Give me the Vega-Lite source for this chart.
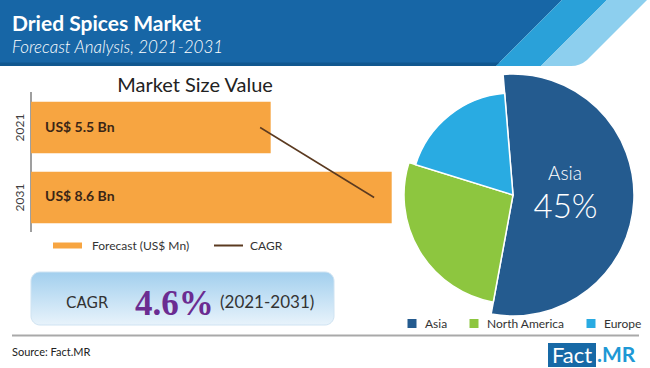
{
  "$schema": "https://vega.github.io/schema/vega-lite/v6.json",
  "width": 650,
  "height": 368,
  "autosize": {"type": "fit", "contains": "padding"},
  "padding": 0,
  "background": "#ffffff",
  "config": {"view": {"stroke": null}, "axis": {"disable": true}},
  "resolve": {"scale": {"x": "independent", "y": "independent"}},
  "layer": [
    {
      "data": {"values": [{}]},
      "layer": [
        {
          "mark": {"type": "point", "shape": "M0,0L5.62,0L4.96,0.66L0,0.66Z", "size": 40000, "filled": true, "color": "#1766a6", "opacity": 1, "strokeWidth": 0},
          "encoding": {
            "x": {"datum": 0, "type": "quantitative", "scale": {"domain": [0, 650], "nice": false, "zero": false}, "axis": null},
            "y": {"datum": 0, "type": "quantitative", "scale": {"domain": [0, 368], "nice": false, "zero": false, "reverse": true}, "axis": null}
          }
        },
        {
          "mark": {"type": "point", "shape": "M0,0.625L5.0,0.625L4.96,0.66L0,0.66Z", "size": 40000, "filled": true, "color": "#10578f", "opacity": 1, "strokeWidth": 0},
          "encoding": {"x": {"datum": 0, "type": "quantitative"}, "y": {"datum": 0, "type": "quantitative"}}
        },
        {
          "mark": {"type": "point", "shape": "M5.62,0L6.07,0L5.41,0.66L4.96,0.66Z", "size": 40000, "filled": true, "color": "#2aa1d9", "opacity": 1, "strokeWidth": 0},
          "encoding": {"x": {"datum": 0, "type": "quantitative"}, "y": {"datum": 0, "type": "quantitative"}}
        },
        {
          "mark": {"type": "point", "shape": "M6.07,0L6.47,0L5.87,0.6Q5.80,0.66 5.71,0.66L5.41,0.66Z", "size": 40000, "filled": true, "color": "#8dcfee", "opacity": 1, "strokeWidth": 0},
          "encoding": {"x": {"datum": 0, "type": "quantitative"}, "y": {"datum": 0, "type": "quantitative"}}
        },
        {
          "mark": {"type": "text", "text": "Dried Spices Market", "align": "left", "baseline": "alphabetic", "font": "Lato", "fontWeight": "bold", "fontSize": 21, "color": "#ffffff"},
          "encoding": {"x": {"datum": 12, "type": "quantitative"}, "y": {"datum": 31, "type": "quantitative"}}
        },
        {
          "mark": {"type": "text", "text": "Forecast Analysis, 2021-2031", "align": "left", "baseline": "alphabetic", "font": "Lato", "fontStyle": "italic", "fontWeight": 300, "fontSize": 17, "color": "#ffffff"},
          "encoding": {"x": {"datum": 12, "type": "quantitative"}, "y": {"datum": 53, "type": "quantitative"}}
        },
        {
          "mark": {"type": "text", "text": "Market Size Value", "align": "center", "baseline": "alphabetic", "font": "Lato", "fontSize": 20, "color": "#222222"},
          "encoding": {"x": {"datum": 195, "type": "quantitative"}, "y": {"datum": 91.5, "type": "quantitative"}}
        },
        {
          "mark": {"type": "rule", "color": "#7f7f7f", "strokeWidth": 1.5},
          "encoding": {"x": {"datum": 31, "type": "quantitative"}, "y": {"datum": 92, "type": "quantitative"}, "y2": {"datum": 232}}
        },
        {
          "mark": {"type": "rect", "color": "#f7a541"},
          "encoding": {"x": {"datum": 53, "type": "quantitative"}, "x2": {"datum": 82}, "y": {"datum": 242.5, "type": "quantitative"}, "y2": {"datum": 248.5}}
        },
        {
          "mark": {"type": "text", "text": "Forecast (US$ Mn)", "align": "left", "baseline": "middle", "font": "Lato", "fontSize": 12, "color": "#333333"},
          "encoding": {"x": {"datum": 92, "type": "quantitative"}, "y": {"datum": 245.5, "type": "quantitative"}}
        },
        {
          "mark": {"type": "rule", "color": "#5b3a20", "strokeWidth": 2},
          "encoding": {"x": {"datum": 214, "type": "quantitative"}, "x2": {"datum": 243}, "y": {"datum": 245.5, "type": "quantitative"}}
        },
        {
          "mark": {"type": "text", "text": "CAGR", "align": "left", "baseline": "middle", "font": "Lato", "fontSize": 12, "color": "#333333"},
          "encoding": {"x": {"datum": 250, "type": "quantitative"}, "y": {"datum": 245.5, "type": "quantitative"}}
        },
        {
          "mark": {"type": "rect", "cornerRadius": 9, "stroke": "#cfe3f2", "strokeWidth": 1, "fill": {"gradient": "linear", "x1": 0, "y1": 0, "x2": 0, "y2": 1, "stops": [{"offset": 0, "color": "#a2cfee"}, {"offset": 1, "color": "#e8f3fb"}]}},
          "encoding": {"x": {"datum": 31, "type": "quantitative"}, "x2": {"datum": 334}, "y": {"datum": 272, "type": "quantitative"}, "y2": {"datum": 325}}
        },
        {
          "mark": {"type": "text", "text": "CAGR", "align": "left", "baseline": "middle", "font": "DejaVu Sans", "fontSize": 15, "color": "#333333"},
          "encoding": {"x": {"datum": 66, "type": "quantitative"}, "y": {"datum": 303, "type": "quantitative"}}
        },
        {
          "mark": {"type": "text", "text": "4.6%", "align": "left", "baseline": "alphabetic", "font": "Liberation Serif", "fontWeight": "bold", "fontSize": 35, "color": "#6b2c91"},
          "encoding": {"x": {"datum": 135, "type": "quantitative"}, "y": {"datum": 315, "type": "quantitative"}}
        },
        {
          "mark": {"type": "text", "text": "(2021-2031)", "align": "left", "baseline": "middle", "font": "Lato", "fontSize": 17, "color": "#333333"},
          "encoding": {"x": {"datum": 220, "type": "quantitative"}, "y": {"datum": 303, "type": "quantitative"}}
        },
        {
          "mark": {"type": "rule", "color": "#a9a9a9", "strokeWidth": 2},
          "encoding": {"x": {"datum": 12, "type": "quantitative"}, "x2": {"datum": 639}, "y": {"datum": 335.5, "type": "quantitative"}}
        },
        {
          "mark": {"type": "text", "text": "Source: Fact.MR", "align": "left", "baseline": "middle", "font": "Lato", "fontSize": 11, "color": "#222222"},
          "encoding": {"x": {"datum": 12, "type": "quantitative"}, "y": {"datum": 353, "type": "quantitative"}}
        },
        {
          "mark": {"type": "rect", "color": "#1769a6"},
          "encoding": {"x": {"datum": 548, "type": "quantitative"}, "x2": {"datum": 596}, "y": {"datum": 343, "type": "quantitative"}, "y2": {"datum": 367}}
        },
        {
          "mark": {"type": "text", "text": "Fact", "align": "center", "baseline": "middle", "font": "Lato", "fontSize": 22, "color": "#ffffff"},
          "encoding": {"x": {"datum": 572, "type": "quantitative"}, "y": {"datum": 355.5, "type": "quantitative"}}
        },
        {
          "mark": {"type": "text", "text": ".MR", "align": "left", "baseline": "middle", "font": "Lato", "fontWeight": "bold", "fontSize": 21, "color": "#1e98d5"},
          "encoding": {"x": {"datum": 597, "type": "quantitative"}, "y": {"datum": 355.5, "type": "quantitative"}}
        },
        {
          "data": {"values": [
            {"region": "Asia", "share": 54.2, "rank": 1, "label": "45%"},
            {"region": "North America", "share": 26.9, "rank": 2, "label": ""},
            {"region": "Europe", "share": 18.9, "rank": 3, "label": ""}
          ]},
          "transform": [{"stack": "share", "groupby": [], "sort": [{"field": "rank", "order": "ascending"}], "as": ["t0", "t1"]}],
          "encoding": {
            "x": {"datum": 513, "type": "quantitative"},
            "y": {"datum": 195, "type": "quantitative"},
            "theta": {"field": "t0", "type": "quantitative", "scale": {"domain": [0, 100], "range": [-0.082, 6.2012]}},
            "theta2": {"field": "t1"},
            "color": {
              "field": "region", "type": "nominal",
              "scale": {"domain": ["Asia", "North America", "Europe"], "range": ["#245b8f", "#8dc63f", "#29abe2"]},
              "legend": {"title": null, "orient": "none", "legendX": 406, "legendY": 317.5, "direction": "horizontal", "symbolType": "square", "symbolSize": 81, "symbolStrokeWidth": 0, "symbolOpacity": 1, "labelFont": "Lato", "labelFontSize": 12, "labelColor": "#333333", "labelOffset": 7, "columnPadding": 20, "padding": 0}
            }
          },
          "layer": [
            {"transform": [{"filter": "datum.region === 'Asia'"}], "mark": {"type": "arc", "outerRadius": 121, "stroke": "#ffffff", "strokeWidth": 1.5}},
            {"transform": [{"filter": "datum.region === 'North America'"}], "mark": {"type": "arc", "outerRadius": 109, "stroke": "#ffffff", "strokeWidth": 1.5}},
            {"transform": [{"filter": "datum.region === 'Europe'"}], "mark": {"type": "arc", "outerRadius": 102, "stroke": "#ffffff", "strokeWidth": 1.5}},
            {
              "transform": [{"filter": "datum.region === 'Asia'"}],
              "mark": {"type": "text", "align": "center", "baseline": "middle", "font": "Lato", "fontWeight": 300, "fontSize": 19, "color": "#ffffff"},
              "encoding": {"x": {"datum": 565, "type": "quantitative"}, "y": {"datum": 174, "type": "quantitative"}, "text": {"field": "region"}, "color": {"value": "#ffffff"}, "theta": null, "theta2": null}
            },
            {
              "transform": [{"filter": "datum.region === 'Asia'"}],
              "mark": {"type": "text", "align": "center", "baseline": "middle", "font": "Lato", "fontWeight": 300, "fontSize": 33, "color": "#ffffff"},
              "encoding": {"x": {"datum": 565.5, "type": "quantitative"}, "y": {"datum": 208, "type": "quantitative"}, "text": {"field": "label"}, "color": {"value": "#ffffff"}, "theta": null, "theta2": null}
            }
          ]
        }
      ]
    },
    {
      "data": {"values": [
        {"year": "2021", "value": 5.5, "label": "US$ 5.5 Bn", "cagr_x": 5.23},
        {"year": "2031", "value": 8.6, "label": "US$ 8.6 Bn", "cagr_x": 8.15}
      ]},
      "encoding": {
        "y": {"field": "year", "type": "ordinal", "scale": {"domain": ["2021", "2031"], "range": [91.7, 233.3], "paddingInner": 0.263, "paddingOuter": 0.143}, "axis": null}
      },
      "layer": [
        {
          "mark": {"type": "bar", "color": "#f7a541"},
          "encoding": {
            "x": {"field": "value", "type": "quantitative", "scale": {"domain": [-0.64, 8.6], "range": [31, 391.7], "nice": false, "zero": false}, "axis": null},
            "x2": {"datum": -0.64}
          }
        },
        {
          "mark": {"type": "line", "color": "#5b3a20", "strokeWidth": 1.5},
          "encoding": {"x": {"field": "cagr_x", "type": "quantitative"}}
        },
        {
          "mark": {"type": "text", "align": "left", "baseline": "middle", "dx": 14, "font": "Lato", "fontWeight": "bold", "fontSize": 14, "color": "#3b2616"},
          "encoding": {"x": {"datum": -0.64, "type": "quantitative"}, "text": {"field": "label"}}
        },
        {
          "mark": {"type": "text", "align": "center", "baseline": "middle", "angle": 270, "dy": -11, "font": "Lato", "fontSize": 12, "color": "#404040"},
          "encoding": {"x": {"datum": -0.64, "type": "quantitative"}, "text": {"field": "year"}}
        }
      ]
    }
  ]
}
